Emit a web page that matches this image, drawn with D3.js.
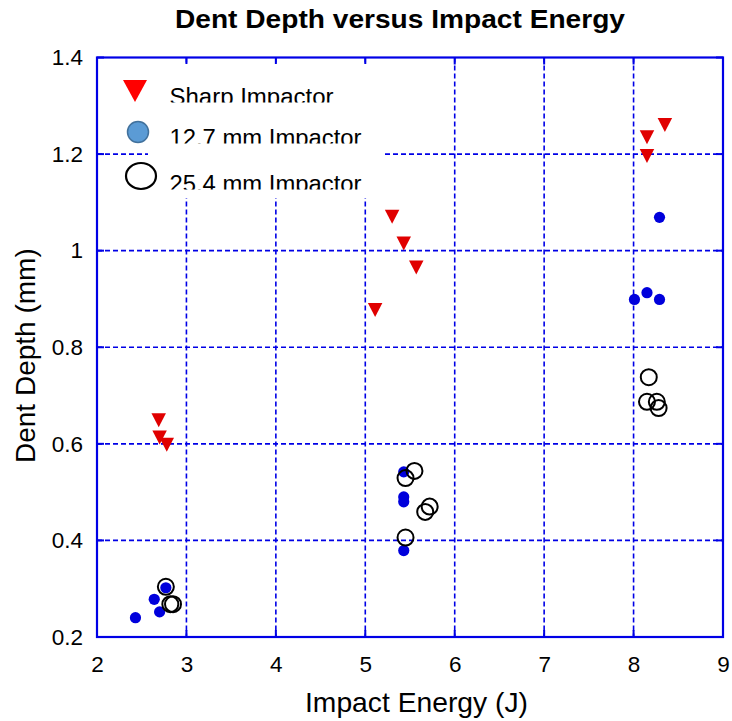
<!DOCTYPE html>
<html>
<head>
<meta charset="utf-8">
<script src="https://cdn.jsdelivr.net/npm/d3@7"></script>
<style>
  body { margin: 0; background: #fff; }
  svg { display: block; font-family: "Liberation Sans", Arial, sans-serif; }
</style>
</head>
<body>
<script>
// data
var xTickValues = [2, 3, 4, 5, 6, 7, 8, 9];
var yTickValues = [0.2, 0.4, 0.6, 0.8, 1, 1.2, 1.4];

var sharpEnergy = [2.69, 2.70, 2.78, 5.30, 5.43, 5.57, 5.11, 8.35, 8.15, 8.15];
var sharpDepth  = [0.649, 0.613, 0.598, 1.070, 1.015, 0.965, 0.877, 1.260, 1.235, 1.196];

var mm127Energy = [2.43, 2.64, 2.70, 2.77, 5.43, 5.43, 5.43, 5.43, 8.01, 8.15, 8.29, 8.29];
var mm127Depth  = [0.240, 0.278, 0.252, 0.302, 0.542, 0.490, 0.480, 0.379, 0.899, 0.913, 0.899, 1.069];

var mm254Energy = [2.77, 2.82, 2.85, 5.45, 5.55, 5.67, 5.72, 5.45, 8.17, 8.15, 8.26, 8.28];
var mm254Depth  = [0.304, 0.268, 0.268, 0.529, 0.544, 0.459, 0.470, 0.406, 0.738, 0.687, 0.687, 0.674];

var legendLabels = ["Sharp Impactor", "12.7 mm Impactor", "25.4 mm Impactor"];

// canvas
var margin = {top: 57.5, right: 9, bottom: 84, left: 97},
    width = 732 - margin.left - margin.right,
    height = 721 - margin.top - margin.bottom;

var gridBlue = "#0000e6";

var x = d3.scaleLinear().domain([2, 9]).range([0, width]);
var y = d3.scaleLinear().domain([0.2, 1.4]).range([height, 0]);

var svg = d3.select("body").append("svg")
    .attr("width", 732)
    .attr("height", 721);

var g = svg.append("g")
    .attr("transform", "translate(" + margin.left + "," + margin.top + ")");

// dashed grid
g.selectAll(".vgrid")
    .data(xTickValues.slice(1, -1))
  .enter().append("line")
    .attr("x1", function(d) { return x(d); })
    .attr("x2", function(d) { return x(d); })
    .attr("y1", 0)
    .attr("y2", height)
    .style("stroke", gridBlue)
    .style("stroke-width", 1.6)
    .style("stroke-dasharray", "5,3");

g.selectAll(".hgrid")
    .data(yTickValues.slice(1, -1))
  .enter().append("line")
    .attr("y1", function(d) { return y(d); })
    .attr("y2", function(d) { return y(d); })
    .attr("x1", 0)
    .attr("x2", width)
    .style("stroke", gridBlue)
    .style("stroke-width", 1.6)
    .style("stroke-dasharray", "5,3");

// inner ticks on all four sides
var tickLen = 7;
xTickValues.forEach(function(d) {
    g.append("line").attr("x1", x(d)).attr("x2", x(d)).attr("y1", 0).attr("y2", tickLen)
        .style("stroke", gridBlue).style("stroke-width", 2);
    g.append("line").attr("x1", x(d)).attr("x2", x(d)).attr("y1", height).attr("y2", height - tickLen)
        .style("stroke", gridBlue).style("stroke-width", 2);
});
yTickValues.forEach(function(d) {
    g.append("line").attr("y1", y(d)).attr("y2", y(d)).attr("x1", 0).attr("x2", tickLen)
        .style("stroke", gridBlue).style("stroke-width", 2);
    g.append("line").attr("y1", y(d)).attr("y2", y(d)).attr("x1", width).attr("x2", width - tickLen)
        .style("stroke", gridBlue).style("stroke-width", 2);
});

// frame
g.append("rect")
    .attr("width", width)
    .attr("height", height)
    .style("fill", "none")
    .style("stroke", gridBlue)
    .style("stroke-width", 2.2);

// axes (labels only)
var xAxis = d3.axisBottom(x).tickValues(xTickValues).tickFormat(d3.format("d"))
    .tickSize(0).tickPadding(19);
var yAxis = d3.axisLeft(y).tickValues(yTickValues).tickFormat(function(d) { return String(d); })
    .tickSize(0).tickPadding(14);

var gx = g.append("g")
    .attr("transform", "translate(0," + height + ")")
    .call(xAxis);
var gy = g.append("g").call(yAxis);

[gx, gy].forEach(function(a) {
    a.select(".domain").remove();
    a.attr("font-family", null).attr("font-size", null);
    a.selectAll("text").style("font-size", "22.5px").style("fill", "#000");
});

// series
var pts127 = mm127Energy.map(function(e, i) { return {e: e, d: mm127Depth[i]}; });
var pts254 = mm254Energy.map(function(e, i) { return {e: e, d: mm254Depth[i]}; });
var ptsSharp = sharpEnergy.map(function(e, i) { return {e: e, d: sharpDepth[i]}; });

g.selectAll(".dot127")
    .data(pts127)
  .enter().append("circle")
    .attr("cx", function(p) { return x(p.e); })
    .attr("cy", function(p) { return y(p.d); })
    .attr("r", 5.6)
    .style("fill", "#0000dc");

g.selectAll(".dot254")
    .data(pts254)
  .enter().append("circle")
    .attr("cx", function(p) { return x(p.e); })
    .attr("cy", function(p) { return y(p.d); })
    .attr("r", 8)
    .style("fill", "none")
    .style("stroke", "#000")
    .style("stroke-width", 2);

// downward triangle around a centre
function downTri(cx, cy, w, h) {
    return "M" + (cx - w / 2) + "," + (cy - h / 2) +
           "L" + (cx + w / 2) + "," + (cy - h / 2) +
           "L" + cx + "," + (cy + h / 2) + "Z";
}

g.selectAll(".sharp")
    .data(ptsSharp)
  .enter().append("path")
    .attr("d", function(p) { return downTri(x(p.e), y(p.d), 14.5, 14); })
    .style("fill", "#e00000");

// legend
svg.append("rect")
    .attr("x", 148).attr("y", 64)
    .attr("width", 235).attr("height", 134)
    .style("fill", "#fff");

svg.append("path")
    .attr("d", downTri(135, 91, 24, 22))
    .style("fill", "#ff0000");
svg.append("circle")
    .attr("cx", 138).attr("cy", 132).attr("r", 10.5)
    .style("fill", "#5b9bd5")
    .style("stroke", "#41719c")
    .style("stroke-width", 1.5);
svg.append("ellipse")
    .attr("cx", 141).attr("cy", 176).attr("rx", 15).attr("ry", 13)
    .style("fill", "none")
    .style("stroke", "#000")
    .style("stroke-width", 2.2);

var legendBase = [104.5, 145.5, 191.5];
var legendClip = [102.5, 143.5, 189.5];
var legendLen = [164, 192, 192];

legendLabels.forEach(function(label, i) {
    var id = "legclip" + i;
    svg.append("clipPath").attr("id", id)
      .append("rect")
        .attr("x", 160).attr("y", legendClip[i] - 30)
        .attr("width", 240).attr("height", 30);
    svg.append("text")
        .attr("clip-path", "url(#" + id + ")")
        .attr("x", 169.5)
        .attr("y", legendBase[i])
        .attr("textLength", legendLen[i])
        .attr("lengthAdjust", "spacingAndGlyphs")
        .style("font-size", "23px")
        .style("fill", "#000")
        .text(label);
});

// title
svg.append("text")
    .attr("x", 175)
    .attr("y", 28)
    .attr("textLength", 450)
    .attr("lengthAdjust", "spacingAndGlyphs")
    .style("font-size", "26px")
    .style("font-weight", "bold")
    .text("Dent Depth versus Impact Energy");

// axis titles
svg.append("text")
    .attr("x", 416.5)
    .attr("y", 712)
    .attr("text-anchor", "middle")
    .attr("textLength", 223)
    .attr("lengthAdjust", "spacingAndGlyphs")
    .style("font-size", "28px")
    .text("Impact Energy (J)");

svg.append("text")
    .attr("transform", "translate(35,463) rotate(-90)")
    .attr("text-anchor", "start")
    .style("font-size", "28px")
    .text("Dent Depth (mm)");
</script>
</body>
</html>
